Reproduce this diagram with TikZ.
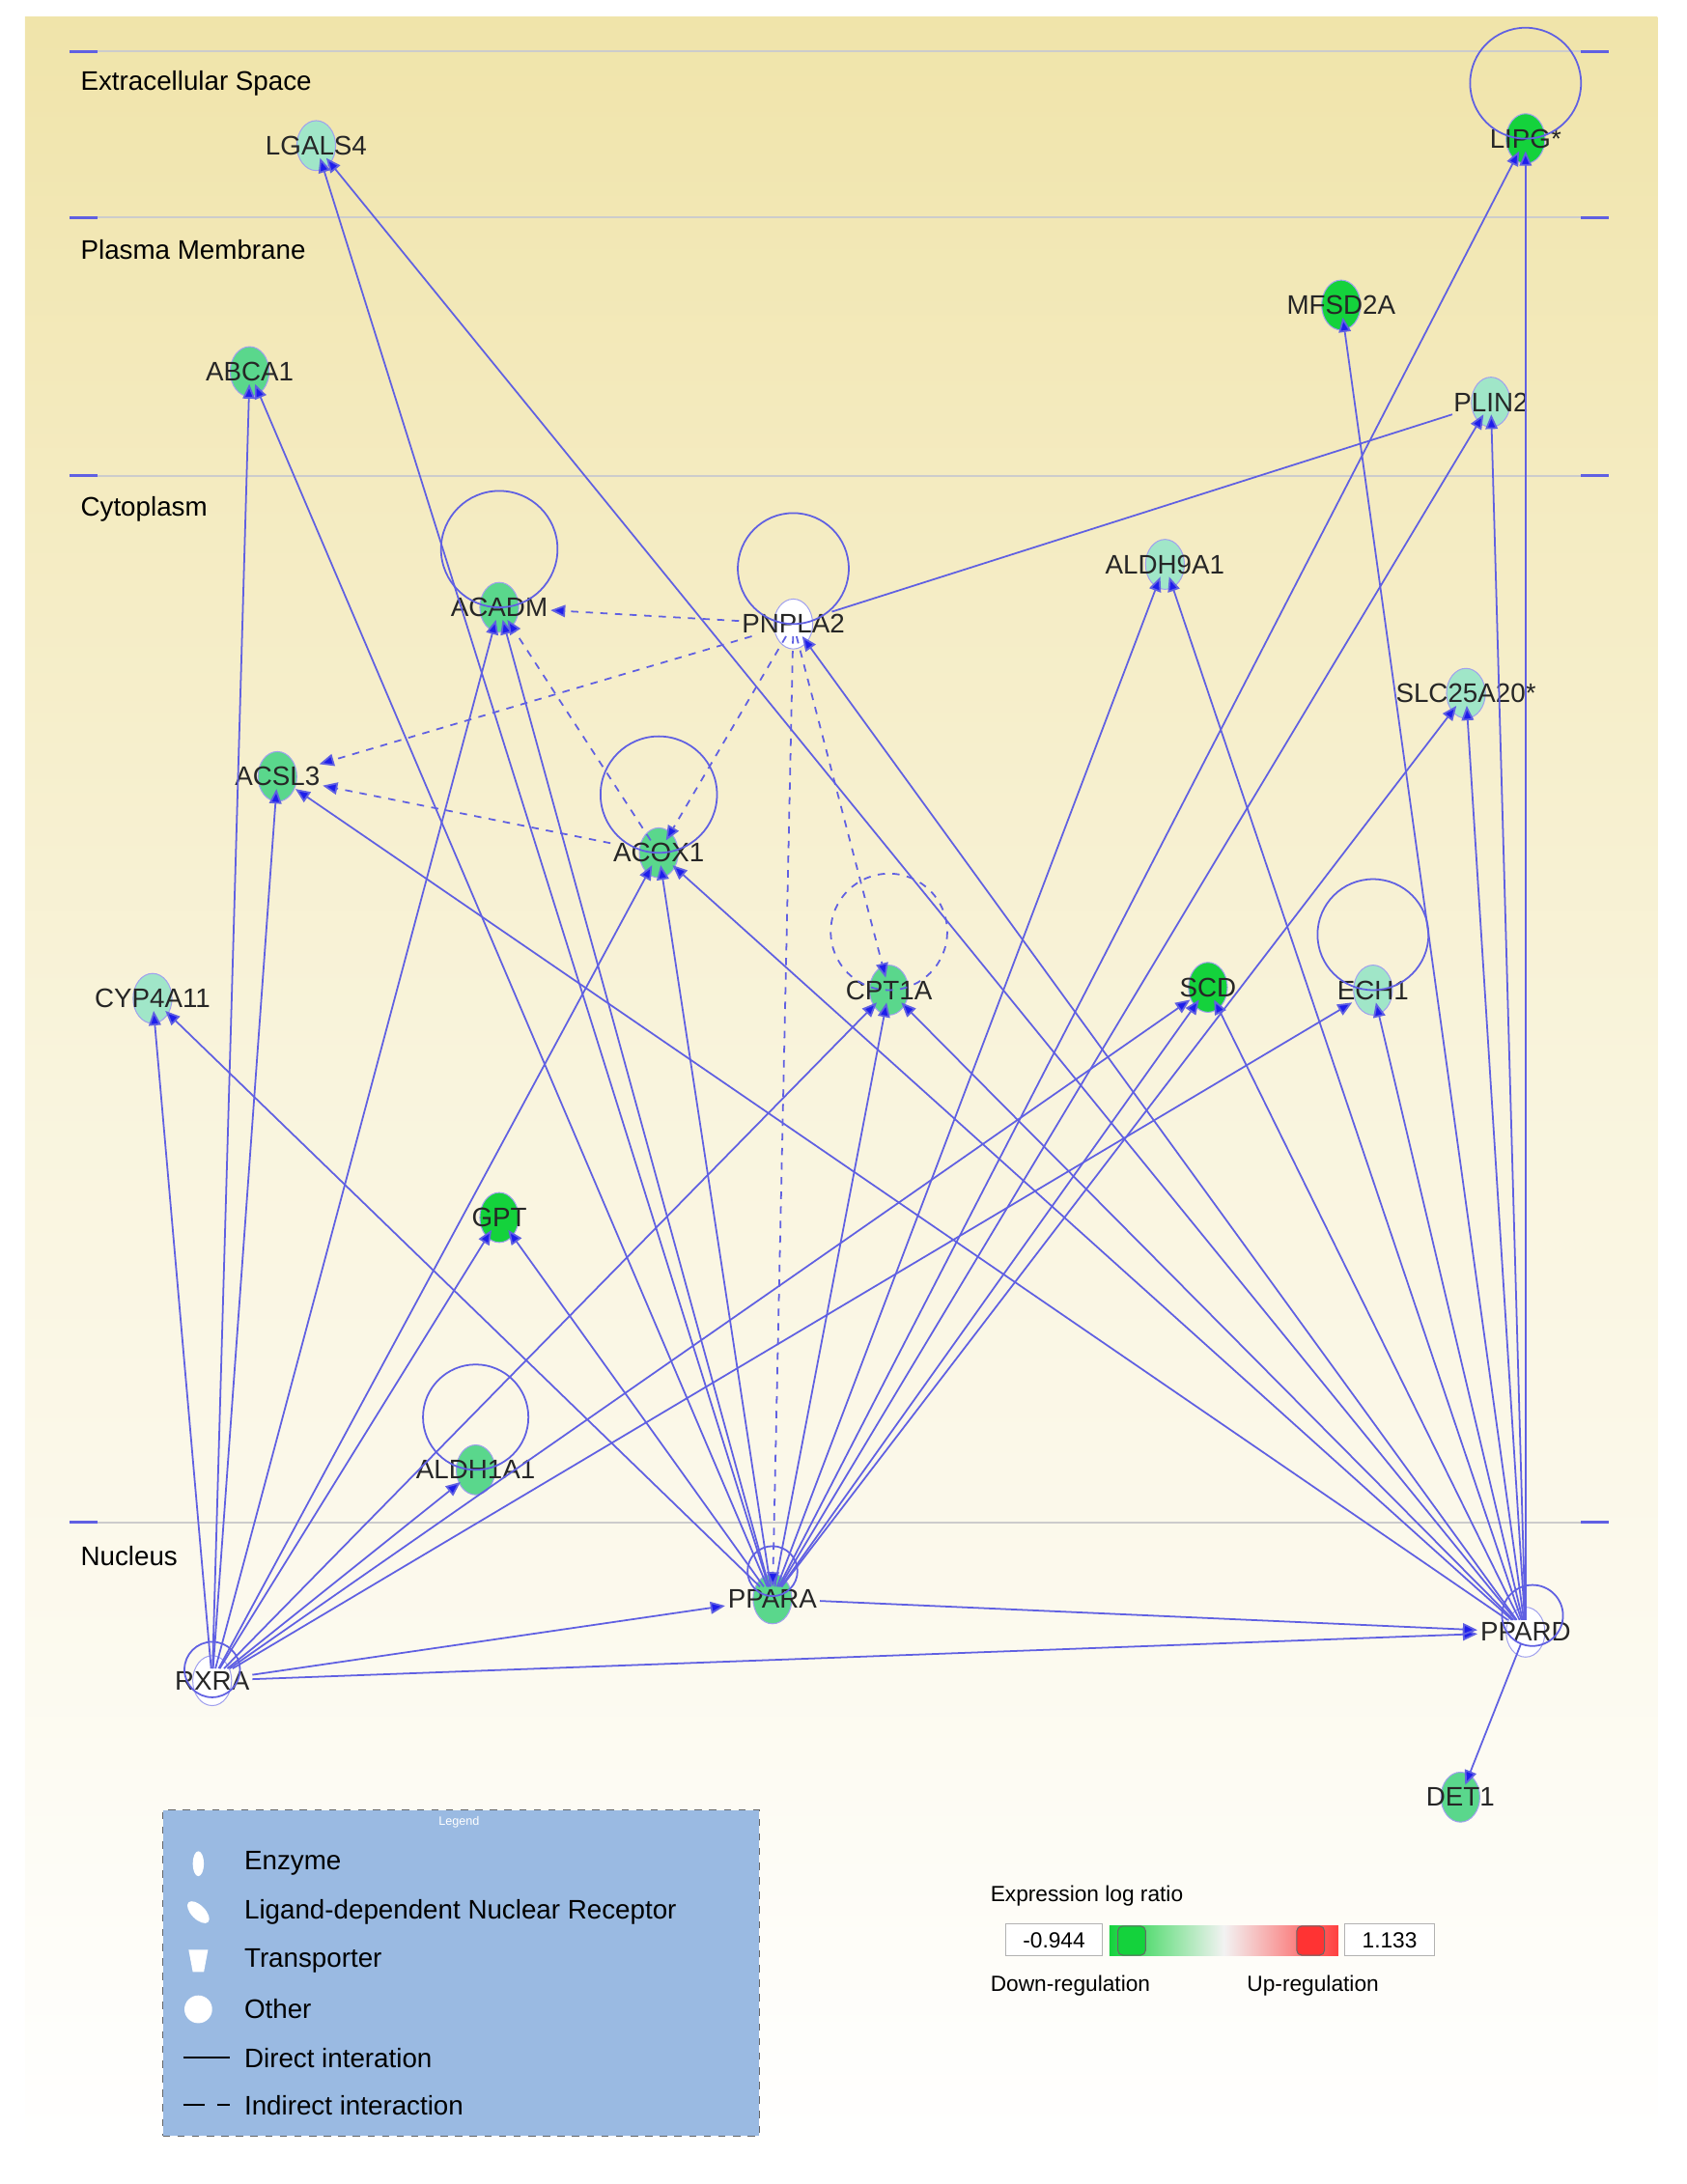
\documentclass[tikz,border=0pt]{standalone}
\usepackage{fontspec}
\setmainfont{Liberation Sans}
\usetikzlibrary{calc,shapes.geometric,backgrounds,arrows.meta}
\definecolor{edgeblue}{RGB}{96,96,226}
\definecolor{tipblue}{RGB}{30,30,235}
\definecolor{lgd}{RGB}{154,186,226}
\definecolor{sand}{RGB}{240,228,170}
\definecolor{gmid}{RGB}{90,215,140}
\definecolor{gpale}{RGB}{160,230,200}
\definecolor{gdark}{RGB}{20,210,60}
\def\fScale{\fontsize{11}{13}\selectfont}
\tikzset{gene/.style={font=\fScale,inner sep=1pt,text=black!85}}
\tikzset{dir/.style={edgeblue,line width=0.7pt,-{Triangle[length=6pt,width=5pt,fill=tipblue]}}}
\tikzset{ind/.style={dir,dashed}}
\tikzset{selfl/.style={edgeblue,line width=0.7pt}}
\tikzset{comp/.style={black!20,line width=0.8pt}}
\tikzset{tick/.style={edgeblue,line width=1.2pt}}
\tikzset{blob/.style={draw=edgeblue!60,line width=0.4pt}}
\begin{document}
\begin{tikzpicture}[x=0.02cm,y=-0.02cm]
\useasboundingbox (0,0) rectangle (1216,1575);
% genes
\node[gene] (lgals4) at (228,105) {LGALS4};
\node[gene] (lipg) at (1100,100) {LIPG*};
\node[gene] (mfsd2a) at (967,220) {MFSD2A};
\node[gene] (abca1) at (180,268) {ABCA1};
\node[gene] (plin2) at (1075,290) {PLIN2};
\node[gene] (acadm) at (360,438) {ACADM};
\node[gene] (pnpla2) at (572,450) {PNPLA2};
\node[gene] (aldh9a1) at (840,407) {ALDH9A1};
\node[gene] (slc) at (1057,500) {SLC25A20*};
\node[gene] (acsl3) at (200,560) {ACSL3};
\node[gene] (acox1) at (475,615) {ACOX1};
\node[gene] (cyp) at (110,720) {CYP4A11};
\node[gene] (cpt1a) at (641,714) {CPT1A};
\node[gene] (scd) at (871,712) {SCD};
\node[gene] (ech1) at (990,714) {ECH1};
\node[gene] (gpt) at (360,878) {GPT};
\node[gene] (aldh1a1) at (343,1060) {ALDH1A1};
\node[gene] (ppara) at (557,1153) {PPARA};
\node[gene] (rxra) at (153,1212) {RXRA};
\node[gene] (ppard) at (1100,1177) {PPARD};
\node[gene] (det1) at (1053,1296) {DET1};
\begin{scope}[on background layer]
\shade[top color=sand,bottom color=white,middle color=sand!40] (18,12) rectangle (1195,1560);
\foreach \y in {37,157,343,1098} {\draw[comp] (50,\y) -- (1160,\y);
\draw[tick] (50,\y) -- (70,\y);\draw[tick] (1140,\y) -- (1160,\y);}
\foreach \n/\c in {lgals4/gpale,lipg/gdark,mfsd2a/gdark,abca1/gmid,plin2/gpale,acadm/gmid,pnpla2/white,aldh9a1/gpale,slc/gpale,acsl3/gmid,acox1/gmid,cyp/gpale,cpt1a/gmid,scd/gdark,ech1/gpale,gpt/gdark,aldh1a1/gmid,ppara/gmid,rxra/white,ppard/white,det1/gmid}
{\fill[\c,blob] (\n.center) ellipse (14 and 18);}
\end{scope}
\node[font=\fScale,anchor=west] (ecs) at (52,60) {Extracellular Space};
\node[font=\fScale,anchor=west] (pm) at (52,180) {Plasma Membrane};
\node[font=\fScale,anchor=west] (cyt) at (52,367) {Cytoplasm};
\node[font=\fScale,anchor=west] (nuc) at (52,1122) {Nucleus};
% self loops
\foreach \n/\r in {lipg/40,acadm/42,pnpla2/40,acox1/42,ech1/40,aldh1a1/38}
{\draw[selfl] ($(\n.center)+(0,-\r)$) circle (\r);}
\draw[selfl,dashed] ($(cpt1a.center)+(0,-42)$) circle (42);
\draw[selfl] ($(rxra.center)+(0,-8)$) circle (20);
\draw[selfl] ($(ppara.center)+(0,-20)$) circle (18);
\draw[selfl] ($(ppard.center)+(5,-12)$) circle (22);
% RXRA
\foreach \t in {cyp,abca1,acsl3,acadm,acox1,gpt,aldh1a1,cpt1a,scd,ech1,ppara,ppard}
{\draw[dir] (rxra) -- (\t);}
% PPARA
\foreach \t in {lgals4,abca1,cyp,acadm,acox1,gpt,aldh9a1,cpt1a,scd,slc,plin2,lipg,ppard}
{\draw[dir] (ppara) -- (\t);}
% PPARD
\foreach \t in {lgals4,acsl3,acox1,pnpla2,aldh9a1,cpt1a,scd,ech1,slc,plin2,lipg,mfsd2a,det1}
{\draw[dir] (ppard) -- (\t);}
% indirect
\foreach \s/\t in {pnpla2/acadm,pnpla2/acsl3,pnpla2/acox1,pnpla2/cpt1a,acox1/acadm,acox1/acsl3,pnpla2/ppara}
{\draw[ind] (\s) -- (\t);}
\draw[selfl] (pnpla2) -- (plin2);
% legend
\node[draw=black!60,dashed,fill=lgd,minimum width=430*0.02cm,minimum height=235*0.02cm,anchor=north west] (lgdbox) at (117,1305) {};
\node[font=\tiny,text=white] (lgdt) at (331,1314) {Legend};
\node[font=\fScale,anchor=west] (l1) at (170,1344) {Enzyme};
\node[font=\fScale,anchor=west] (l2) at (170,1379) {Ligand-dependent Nuclear Receptor};
\node[font=\fScale,anchor=west] (l3) at (170,1414) {Transporter};
\node[font=\fScale,anchor=west] (l4) at (170,1449) {Other};
\node[font=\fScale,anchor=west] (l5) at (170,1484) {Direct interation};
\node[font=\fScale,anchor=west] (l6) at (170,1518) {Indirect interaction};
\fill[white] (143,1344) ellipse (4 and 9);
\fill[white,rotate around={45:(143,1379)}] (143,1379) ellipse (5 and 10);
\fill[white] (136,1406) -- (150,1406) -- (147,1422) -- (139,1422) -- cycle;
\fill[white] (143,1449) circle (10);
\draw[black,line width=0.9pt] (132,1484) -- (166,1484);
\draw[black,line width=0.9pt,dash pattern=on 9pt off 5pt] (132,1518) -- (166,1518);
% expression bar
\node[font=\small,anchor=west] (elr) at (708,1367) {Expression log ratio};
\shade[left color=gdark,right color=red!75,middle color=white!90!gray] (800,1389) rectangle (965,1410);
\node[draw=black!30,fill=white,font=\small,minimum width=70*0.02cm,minimum height=21*0.02cm,align=right] (lo) at (760,1399) {\hfill-0.944};
\node[draw=black!30,fill=white,font=\small,minimum width=65*0.02cm,minimum height=21*0.02cm] (hi) at (1002,1399) {\hfill1.133};
\fill[gdark,draw=black!60,rounded corners=2pt] (806,1389) rectangle (826,1410);
\fill[red!80,draw=black!60,rounded corners=2pt] (935,1389) rectangle (955,1410);
\node[font=\small,anchor=west] (dn) at (708,1432) {Down-regulation};
\node[font=\small,anchor=west] (up) at (893,1432) {Up-regulation};
\end{tikzpicture}
\end{document}
